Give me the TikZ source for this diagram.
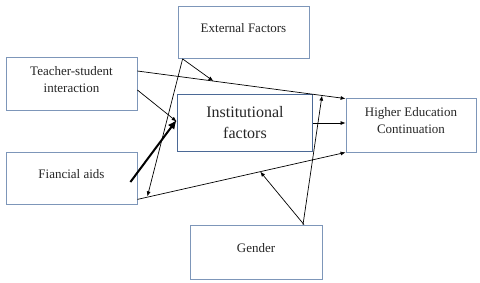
\documentclass[tikz,border=0pt]{standalone}
\usepackage{fontspec}
\setmainfont{Liberation Serif}
\usetikzlibrary{arrows.meta,calc}
\definecolor{boxline}{RGB}{125,150,185}
\definecolor{instline}{RGB}{75,105,150}
\tikzset{
  box/.style={draw=boxline,line width=0.8pt,fill=white,inner sep=0pt},
  instbox/.style={draw=instline,line width=1.8pt,fill=white,inner sep=0pt},
  lbl/.style={align=center,font=\fontsize{13}{17}\selectfont,text=black!85},
  conn/.style={line width=0.7pt,-{Latex[length=5pt,width=4pt]}},
  thickconn/.style={line width=2pt,-{Latex[length=9pt,width=8pt]}}
}
\begin{document}
\begin{tikzpicture}[x=1pt,y=-1pt]
\useasboundingbox (0,0) rectangle (480,282);
% boxes
\node[box,minimum width=131pt,minimum height=52pt] (ext) at (243.5,32.5) {};
\node[box,minimum width=131pt,minimum height=53pt] (ts) at (71.5,83.5) {};
\node[instbox,minimum width=135pt,minimum height=57pt] (inst) at (245,123) {};
\node[box,minimum width=130pt,minimum height=54pt] (he) at (411,125) {};
\node[box,minimum width=131pt,minimum height=52pt] (fa) at (71.5,178) {};
\node[box,minimum width=132pt,minimum height=54pt] (gen) at (256,252) {};
% labels
\node[lbl] (extT) at ([yshift=4pt]ext.center) {External Factors};
\node[lbl] (tsT) at ([yshift=3.5pt]ts.center) {Teacher-student\\interaction};
\node[lbl,font=\fontsize{16}{21}\selectfont] (instT) at ([yshift=0pt]inst.center) {Institutional\\factors};
\node[lbl] (heT) at ([yshift=4pt]he.center) {Higher Education\\Continuation};
\node[lbl] (faT) at ([yshift=4pt]fa.center) {Fiancial aids};
\node[lbl] (genT) at ([yshift=4pt]gen.center) {Gender};
% helper coordinates
\coordinate (tsA) at ([yshift=12.5pt]ts.east);
\coordinate (heA) at ([yshift=-1pt]he.north west);
\coordinate (m1) at ($(tsA)!0.365!(heA)$);
\coordinate (faA) at ([yshift=5pt]fa.south east);
\coordinate (m2) at ($(faA)!0.59!(he.south west)$);
\coordinate (extA) at ([xshift=5pt]ext.south west);
\coordinate (faTip) at ([xshift=10pt,yshift=8pt]fa.south east);
\coordinate (faIn) at ([xshift=-7pt,yshift=-4pt]fa.east);
\coordinate (instTip) at ([yshift=3pt]inst.west);
\coordinate (genA) at ([xshift=48pt]gen.north);
\coordinate (genB) at ([xshift=47pt]gen.north);
\coordinate (instTop) at ([xshift=77pt,yshift=-2pt]inst.north);
% connectors
\draw[conn] (tsA) -- (heA);
\draw[conn] (extA) -- (m1);
\draw[conn] ([yshift=-6.5pt]ts.east) -- ([yshift=1.5pt]inst.west);
\draw[thickconn] (faIn) -- (instTip);
\draw[conn] (extA) -- (faTip);
\draw[conn] (faA) -- (he.south west);
\draw[conn] (genA) -- (m2);
\draw[conn] (genB) -- (instTop);
\draw[conn] (inst.east) -- (inst.east -| he.west);
\end{tikzpicture}
\end{document}
